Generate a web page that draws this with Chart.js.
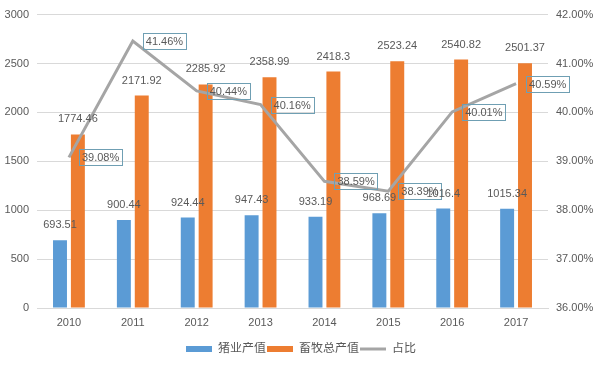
<!DOCTYPE html>
<html>
<head>
<meta charset="utf-8">
<script src="https://cdn.jsdelivr.net/npm/chart.js@4"></script>
<style>
  html, body { margin: 0; padding: 0; background: #fff; }
  #wrap { width: 602px; height: 365px; }
</style>
</head>
<body>
<div id="wrap"><canvas id="chart" width="602" height="365"></canvas></div>
<script>
// data
const years = ['2010', '2011', '2012', '2013', '2014', '2015', '2016', '2017'];
const pigValue = [693.51, 900.44, 924.44, 947.43, 933.19, 968.69, 1016.4, 1015.34];
const livestockValue = [1774.46, 2171.92, 2285.92, 2358.99, 2418.3, 2523.24, 2540.82, 2501.37];
const shareValue = [39.08, 41.46, 40.44, 40.16, 38.59, 38.39, 40.01, 40.59];
const seriesNames = ['猪业产值', '畜牧总产值', '占比'];

const FONT = "'Liberation Sans', 'Noto Sans CJK SC', sans-serif";
const TEXT = '#595959';

// labels over bars, boxed labels next to line points
const labelPlugin = {
    id: 'valueLabels',
    afterDatasetsDraw(chart) {
        const ctx = chart.ctx;
        ctx.save();
        ctx.font = '11px ' + FONT;
        ctx.fillStyle = TEXT;
        ctx.textBaseline = 'middle';
        chart.data.datasets.forEach((ds, di) => {
            const meta = chart.getDatasetMeta(di);
            meta.data.forEach((el, i) => {
                const v = ds.data[i];
                if (ds.type === 'line') {
                    const txt = v.toFixed(2) + '%';
                    const w = ctx.measureText(txt).width + 6;
                    const bx = el.x + 10;
                    const by = el.y - 8;
                    ctx.strokeStyle = '#6f9fb3';
                    ctx.lineWidth = 1;
                    ctx.strokeRect(Math.round(bx) + 0.5, Math.round(by) + 0.5, Math.round(w), 16);
                    ctx.textAlign = 'left';
                    ctx.fillText(txt, bx + 3, el.y + 1);
                } else {
                    ctx.textAlign = 'center';
                    ctx.fillText(String(v), el.x, el.y - 15);
                }
            });
        });
        ctx.restore();
    }
};

const ctx = document.getElementById('chart').getContext('2d');
new Chart(ctx, {
    data: {
        labels: years,
        datasets: [
            {
                type: 'line',
                label: seriesNames[2],
                data: shareValue,
                yAxisID: 'y1',
                borderColor: '#A5A5A5',
                backgroundColor: '#A5A5A5',
                borderWidth: 3,
                pointRadius: 0,
                tension: 0,
                order: 0
            },
            {
                type: 'bar',
                label: seriesNames[0],
                data: pigValue,
                yAxisID: 'y',
                backgroundColor: '#5B9BD5',
                categoryPercentage: 0.56,
                barPercentage: 0.78,
                order: 1
            },
            {
                type: 'bar',
                label: seriesNames[1],
                data: livestockValue,
                yAxisID: 'y',
                backgroundColor: '#ED7D31',
                categoryPercentage: 0.56,
                barPercentage: 0.78,
                order: 1
            }
        ]
    },
    options: {
        responsive: false,
        animation: false,
        layout: { padding: { top: 8, left: 0, right: 0, bottom: 0 } },
        plugins: {
            tooltip: { enabled: false },
            legend: {
                position: 'bottom',
                labels: {
                    font: { family: FONT, size: 12 },
                    color: TEXT,
                    usePointStyle: true,
                    pointStyleWidth: 26,
                    boxHeight: 6,
                    padding: 1,
                    sort: (a, b) => {
                        const rank = { '猪业产值': 0, '畜牧总产值': 1, '占比': 2 };
                        return rank[a.text] - rank[b.text];
                    },
                    generateLabels(chart) {
                        const items = Chart.defaults.plugins.legend.labels.generateLabels(chart);
                        items.forEach(it => {
                            const ds = chart.data.datasets[it.datasetIndex];
                            if (ds.type === 'line') {
                                it.pointStyle = 'line';
                                it.lineWidth = 3;
                                it.strokeStyle = '#A5A5A5';
                            } else {
                                it.pointStyle = 'rect';
                                it.lineWidth = 0;
                            }
                        });
                        return items;
                    }
                }
            }
        },
        scales: {
            x: {
                grid: { display: false, drawTicks: false },
                border: { color: '#d9d9d9' },
                ticks: { font: { family: FONT, size: 11 }, color: TEXT, padding: 8 },
                afterFit(scale) { scale.height = 34; }
            },
            y: {
                position: 'left',
                min: 0,
                max: 3000,
                ticks: {
                    stepSize: 500,
                    font: { family: FONT, size: 11 },
                    color: TEXT,
                    padding: 8,
                    callback: v => String(v)
                },
                grid: { color: '#d9d9d9', drawTicks: false },
                border: { display: false },
                afterFit(scale) { scale.width = 37; }
            },
            y1: {
                position: 'right',
                min: 36,
                max: 42,
                ticks: {
                    stepSize: 1,
                    font: { family: FONT, size: 11 },
                    color: TEXT,
                    padding: 8,
                    callback: v => v.toFixed(2) + '%'
                },
                grid: { display: false, drawTicks: false },
                border: { display: false },
                afterFit(scale) { scale.width = 54; }
            }
        }
    },
    plugins: [labelPlugin]
});
</script>
</body>
</html>
